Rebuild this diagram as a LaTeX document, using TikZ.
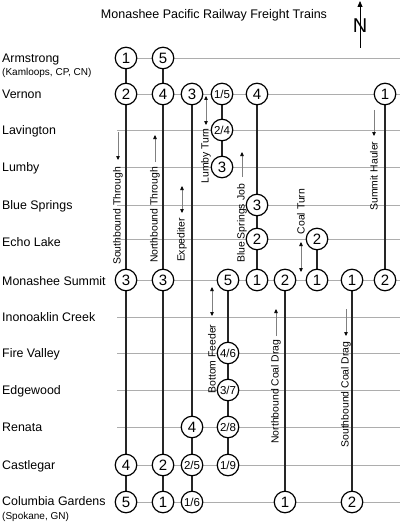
\documentclass[tikz,border=0pt]{standalone}
\usepackage{fontspec}
\setmainfont{Liberation Sans}
\usetikzlibrary{arrows.meta,backgrounds}
\begin{document}
\begin{tikzpicture}[x=1pt,y=-1pt,
  stn/.style={circle,draw=black,line width=1.2pt,fill=white,minimum size=21.5pt,inner sep=0pt,font=\fontsize{15}{15}\selectfont},
  fr/.style={stn,font=\fontsize{11.5}{11.5}\selectfont},
  place/.style={anchor=base west,font=\fontsize{12.4}{14}\selectfont,inner sep=0pt},
  sub/.style={anchor=base west,font=\fontsize{10}{12}\selectfont,inner sep=0pt},
  rot/.style={rotate=90,inner sep=0pt,font=\fontsize{10.4}{12}\selectfont},
  gridline/.style={draw=black!32,line width=0.8pt},
  trk/.style={draw=black!85,line width=1.6pt},
  dirarrow/.style={draw=black!50,line width=0.6pt,-{Triangle[length=4pt,width=3.5pt,color=black]}},
  twoway/.style={draw=black!50,line width=0.6pt,{Triangle[length=4pt,width=3.5pt,color=black]}-{Triangle[length=4pt,width=3.5pt,color=black]}}
]
\useasboundingbox (0,0) rectangle (400,524);

% title and north arrow
\node[font=\fontsize{12.5}{14}\selectfont,inner sep=0pt] (title) at (214,15) {Monashee Pacific Railway Freight Trains};
\node[font=\fontsize{20}{20}\selectfont,inner sep=0pt] (north) at (360,26) {N};
\coordinate (nA) at (360,48);
\coordinate (nB) at (360,1);
\draw[draw=black,line width=0.8pt,-{Triangle[length=6pt,width=5pt]}] (nA) -- (nB);

% station rows
\foreach \n/\y in {A/58,V/94,La/130,Lu/167,BS/205,EL/239,MS/280,IC/317,FV/353,EW/390,R/427,C/465,CG/502}{
  \coordinate (L\n) at (117,\y);
  \coordinate (R\n) at (400,\y);
}

% station labels
\node[place] (tA) at (2,62.5) {Armstrong};
\node[sub] (tA2) at (2,76) {(Kamloops, CP, CN)};
\node[place] (tV) at (2,98.5) {Vernon};
\node[place] (tLa) at (2,134.5) {Lavington};
\node[place] (tLu) at (2,171.5) {Lumby};
\node[place] (tBS) at (2,209.5) {Blue Springs};
\node[place] (tEL) at (2,246) {Echo Lake};
\node[place] (tMS) at (2,285) {Monashee Summit};
\node[place] (tIC) at (2,321.5) {Inonoaklin Creek};
\node[place] (tFV) at (2,357.5) {Fire Valley};
\node[place] (tEW) at (2,394.5) {Edgewood};
\node[place] (tR) at (2,431.5) {Renata};
\node[place] (tC) at (2,469.5) {Castlegar};
\node[place] (tCG) at (2,505) {Columbia Gardens};
\node[sub] (tCG2) at (2,519) {(Spokane, GN)};

% column 1: Southbound Through
\node[stn] (a1) at (126,58) {1};
\node[stn] (v1) at (126,94) {2};
\node[stn] (m1) at (126,280) {3};
\node[stn] (c1) at (126,465) {4};
\node[stn] (g1) at (126,502) {5};
% column 2: Northbound Through
\node[stn] (a2) at (163,58) {5};
\node[stn] (v2) at (163,94) {4};
\node[stn] (m2) at (163,280) {3};
\node[stn] (c2) at (163,465) {2};
\node[stn] (g2) at (163,502) {1};
% column 3: Expediter
\node[stn] (v3) at (192,94) {3};
\node[stn] (r3) at (192,427) {4};
\node[fr] (c3) at (192,465) {2/5};
\node[fr] (g3) at (192,502) {1/6};
% column 4: Lumby Turn
\node[fr] (v4) at (222,94) {1/5};
\node[fr] (la4) at (222,130) {2/4};
\node[stn] (lu4) at (222,167) {3};
% Bottom Feeder
\node[stn] (m5) at (228,280) {5};
\node[fr] (f5) at (228,353) {4/6};
\node[fr] (e5) at (228,390) {3/7};
\node[fr] (r5) at (228,427) {2/8};
\node[fr] (c5) at (228,465) {1/9};
% Blue Springs Job
\node[stn] (v6) at (257,94) {4};
\node[stn] (b6) at (257,205) {3};
\node[stn] (e6) at (257,239) {2};
\node[stn] (m6) at (257,280) {1};
% Northbound Coal Drag
\node[stn] (m7) at (285,280) {2};
\node[stn] (g7) at (285,502) {1};
% Coal Turn
\node[stn] (e8) at (317,239) {2};
\node[stn] (m8) at (317,280) {1};
% Southbound Coal Drag
\node[stn] (m9) at (352,280) {1};
\node[stn] (g9) at (352,502) {2};
% Summit Hauler
\node[stn] (v10) at (385,94) {1};
\node[stn] (m10) at (385,280) {2};

% train labels and direction arrows
\node[rot] (lab1) at (118,216) {Southbound Through};
\coordinate (d1a) at (118,132); \coordinate (d1b) at (118,160);
\draw[dirarrow] (d1a) -- (d1b);

\node[rot] (lab2) at (155,215) {Northbound Through};
\coordinate (d2a) at (155,162); \coordinate (d2b) at (155,135);
\draw[dirarrow] (d2a) -- (d2b);

\node[rot] (lab3) at (182,240) {Expediter};
\coordinate (d3a) at (182,186); \coordinate (d3b) at (182,213);
\draw[twoway] (d3a) -- (d3b);

\node[rot] (lab4) at (206,156) {Lumby Turn};
\coordinate (d4a) at (206,96); \coordinate (d4b) at (206,125);
\draw[twoway] (d4a) -- (d4b);

\node[rot] (lab5) at (242,223.5) {Blue Springs Job};
\coordinate (d5a) at (242,177); \coordinate (d5b) at (242,152);
\draw[dirarrow] (d5a) -- (d5b);

\node[rot] (lab6) at (301,211.5) {Coal Turn};
\coordinate (d6a) at (301,242); \coordinate (d6b) at (301,272);
\draw[twoway] (d6a) -- (d6b);

\node[rot] (lab7) at (374,176) {Summit Hauler};
\coordinate (d7a) at (374,110); \coordinate (d7b) at (374,136);
\draw[dirarrow] (d7a) -- (d7b);

\node[rot] (lab8) at (212,359) {Bottom Feeder};
\coordinate (d8a) at (212,287); \coordinate (d8b) at (212,316);
\draw[twoway] (d8a) -- (d8b);

\node[rot] (lab9) at (276,391.5) {Northbound Coal Drag};
\coordinate (d9a) at (276,336); \coordinate (d9b) at (276,309);
\draw[dirarrow] (d9a) -- (d9b);

\node[rot] (lab10) at (346,394.5) {Southbound Coal Drag};
\coordinate (d10a) at (346,309); \coordinate (d10b) at (346,336);
\draw[dirarrow] (d10a) -- (d10b);

\begin{scope}[on background layer]
  \fill[white] (0,0) rectangle (400,524);
  \foreach \n in {A,V,La,Lu,BS,EL,MS,IC,FV,EW,R,C,CG}{
    \draw[gridline] (L\n) -- (R\n);
  }
  \draw[trk] (a1) -- (v1); \draw[trk] (v1) -- (m1); \draw[trk] (m1) -- (c1); \draw[trk] (c1) -- (g1);
  \draw[trk] (a2) -- (v2); \draw[trk] (v2) -- (m2); \draw[trk] (m2) -- (c2); \draw[trk] (c2) -- (g2);
  \draw[trk] (v3) -- (r3); \draw[trk] (r3) -- (c3); \draw[trk] (c3) -- (g3);
  \draw[trk] (v4) -- (la4); \draw[trk] (la4) -- (lu4);
  \draw[trk] (m5) -- (f5); \draw[trk] (f5) -- (e5); \draw[trk] (e5) -- (r5); \draw[trk] (r5) -- (c5);
  \draw[trk] (v6) -- (b6); \draw[trk] (b6) -- (e6); \draw[trk] (e6) -- (m6);
  \draw[trk] (m7) -- (g7);
  \draw[trk] (e8) -- (m8);
  \draw[trk] (m9) -- (g9);
  \draw[trk] (v10) -- (m10);
\end{scope}
\end{tikzpicture}
\end{document}
